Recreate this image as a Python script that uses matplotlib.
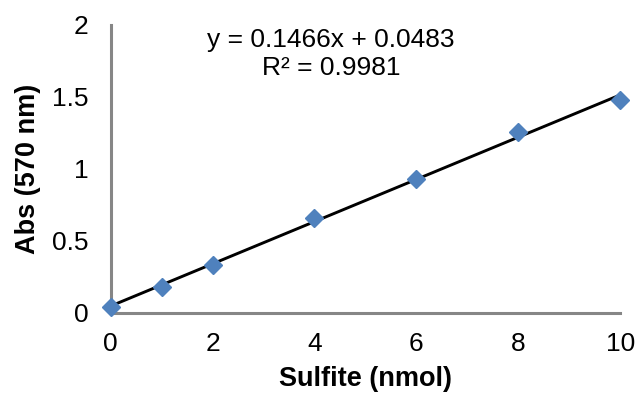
import numpy as np
import matplotlib.pyplot as plt

# standard curve readings
sulfite = [0, 1, 2, 4, 6, 8, 10]
absorb = [0.04, 0.18, 0.33, 0.66, 0.93, 1.26, 1.48]

# trendline from the chart label
slope = 0.1466
intercept = 0.0483
r2 = 0.9981

xticks = [0, 2, 4, 6, 8, 10]
yticks = [0, 0.5, 1, 1.5, 2]
yticklabels = ["0", "0.5", "1", "1.5", "2"]

plt.rcParams['font.family'] = ['Liberation Sans', 'DejaVu Sans']

fig = plt.figure(figsize=(6.4, 3.98), dpi=100)
ax = fig.add_axes([0.173, 0.2136, 0.796, 0.7236])

xfit = np.array([sulfite[0], sulfite[-1]])
ax.plot(xfit, slope * xfit + intercept, color="black", lw=2.1, zorder=2)
ax.plot(sulfite, absorb, "D", color="#4F81BD", ms=9, mec="#4F81BD", zorder=3, clip_on=False)

ax.set_xlim(0, 10)
ax.set_ylim(0, 2)
ax.set_xticks(xticks)
ax.set_yticks(yticks)
ax.set_yticklabels(yticklabels)
ax.tick_params(length=0, labelsize=19)
ax.tick_params(axis='x', pad=14)
ax.tick_params(axis='y', pad=16)

for s in ["top", "right"]:
    ax.spines[s].set_visible(False)
for s in ["left", "bottom"]:
    ax.spines[s].set_color("#868686")
    ax.spines[s].set_linewidth(2.2)

ax.set_xlabel("Sulfite (nmol)", fontsize=19.5, fontweight="bold", labelpad=7)
ax.set_ylabel("Abs (570 nm)", fontsize=19.5, fontweight="bold", labelpad=8)

eq = "y = %.4fx + %.4f\nR² = %.4f" % (slope, intercept, r2)
fig.text(331 / 640, 1 - 54 / 398, eq, ha="center", va="center", fontsize=19, linespacing=1.2)

fig.savefig("out.png", dpi=100)
